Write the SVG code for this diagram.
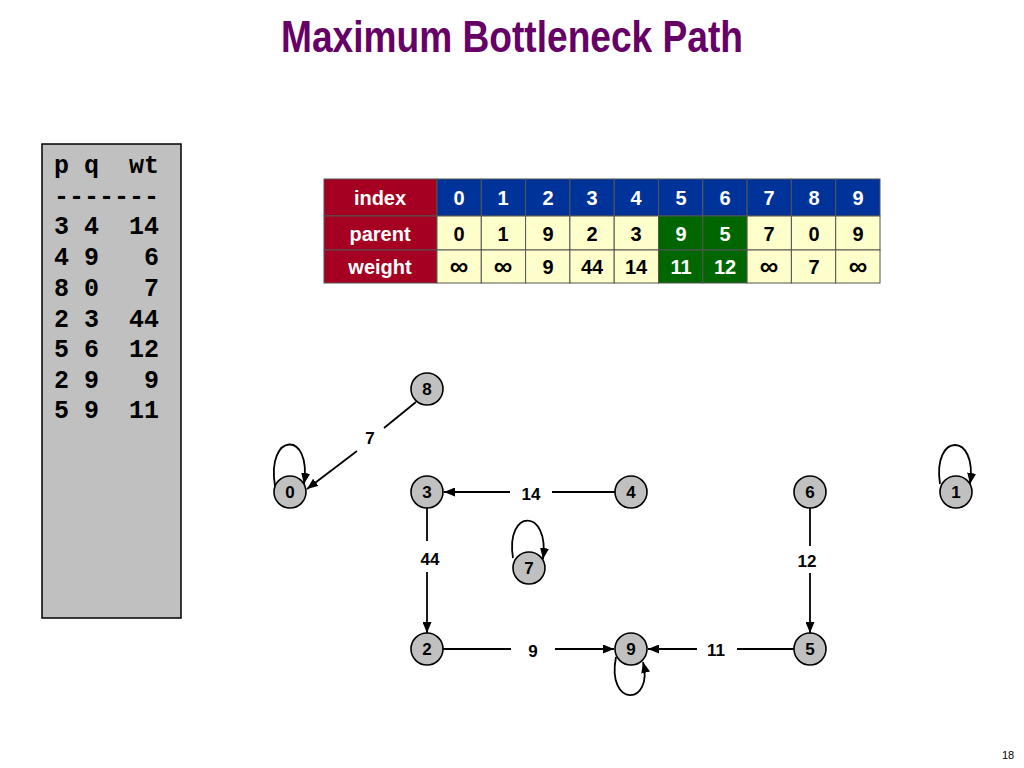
<svg xmlns="http://www.w3.org/2000/svg" width="1024" height="768" viewBox="0 0 1024 768">
<style>
.title{font-family:"Liberation Sans",Arial,sans-serif;font-weight:bold;font-size:44px;fill:#660066}
.code{font-family:"Liberation Mono","Courier New",monospace;font-weight:bold;font-size:25px;fill:#000;white-space:pre}
.th{font-family:"Liberation Sans",Arial,sans-serif;font-weight:bold;font-size:20px;fill:#fff}
.td{font-family:"Liberation Sans",Arial,sans-serif;font-weight:bold;font-size:20px;fill:#000}
.tdw{font-family:"Liberation Sans",Arial,sans-serif;font-weight:bold;font-size:20px;fill:#fff}
.inf{font-family:"Liberation Sans",Arial,sans-serif;font-weight:bold;font-size:26px;fill:#000}
.red{fill:#A50021;stroke:#555;stroke-width:1}
.blue{fill:#003399;stroke:#555;stroke-width:1}
.yel{fill:#FFFFCC;stroke:#555;stroke-width:1}
.grn{fill:#006600;stroke:#555;stroke-width:1}
.node circle{fill:#C0C0C0;stroke:#000;stroke-width:1.6}
.node text{font-family:"Liberation Sans",Arial,sans-serif;font-weight:bold;font-size:17px;fill:#000;text-anchor:middle}
.edge{stroke:#000;stroke-width:1.8;fill:none}
.lbl{font-family:"Liberation Sans",Arial,sans-serif;font-weight:bold;font-size:17px;fill:#000;text-anchor:middle}
</style>
<defs>
<marker id="arr" markerUnits="userSpaceOnUse" markerWidth="11" markerHeight="9" refX="11" refY="4.5" orient="auto">
<path d="M0,0 L11,4.5 L0,9 z" fill="#000"/>
</marker>
</defs>
<rect width="1024" height="768" fill="#fff"/>
<text class="title" x="512" y="52" text-anchor="middle" textLength="462" lengthAdjust="spacingAndGlyphs">Maximum Bottleneck Path</text>

<g id="edgelist">
<rect x="42" y="144" width="139" height="474" fill="#C0C0C0" stroke="#000" stroke-width="1.5"/>
<text class="code" x="54" y="173">p q  wt</text>
<text class="code" x="54" y="204">-------</text>
<text class="code" x="54" y="234">3 4  14</text>
<text class="code" x="54" y="265">4 9   6</text>
<text class="code" x="54" y="296">8 0   7</text>
<text class="code" x="54" y="327">2 3  44</text>
<text class="code" x="54" y="357">5 6  12</text>
<text class="code" x="54" y="388">2 9   9</text>
<text class="code" x="54" y="418">5 9  11</text>
</g>

<g id="table">
<rect class="red" x="324" y="179" width="113" height="37"/>
<rect class="red" x="324" y="216" width="113" height="34"/>
<rect class="red" x="324" y="250" width="113" height="33"/>
<g class="blue">
<rect x="437" y="179" width="44.3" height="37"/><rect x="481.3" y="179" width="44.3" height="37"/><rect x="525.6" y="179" width="44.3" height="37"/><rect x="569.9" y="179" width="44.3" height="37"/><rect x="614.2" y="179" width="44.3" height="37"/><rect x="658.5" y="179" width="44.3" height="37"/><rect x="702.8" y="179" width="44.3" height="37"/><rect x="747.1" y="179" width="44.3" height="37"/><rect x="791.4" y="179" width="44.3" height="37"/><rect x="835.7" y="179" width="44.3" height="37"/>
</g>
<g>
<rect class="yel" x="437" y="216" width="44.3" height="34"/><rect class="yel" x="481.3" y="216" width="44.3" height="34"/><rect class="yel" x="525.6" y="216" width="44.3" height="34"/><rect class="yel" x="569.9" y="216" width="44.3" height="34"/><rect class="yel" x="614.2" y="216" width="44.3" height="34"/><rect class="grn" x="658.5" y="216" width="44.3" height="34"/><rect class="grn" x="702.8" y="216" width="44.3" height="34"/><rect class="yel" x="747.1" y="216" width="44.3" height="34"/><rect class="yel" x="791.4" y="216" width="44.3" height="34"/><rect class="yel" x="835.7" y="216" width="44.3" height="34"/>
<rect class="yel" x="437" y="250" width="44.3" height="33"/><rect class="yel" x="481.3" y="250" width="44.3" height="33"/><rect class="yel" x="525.6" y="250" width="44.3" height="33"/><rect class="yel" x="569.9" y="250" width="44.3" height="33"/><rect class="yel" x="614.2" y="250" width="44.3" height="33"/><rect class="grn" x="658.5" y="250" width="44.3" height="33"/><rect class="grn" x="702.8" y="250" width="44.3" height="33"/><rect class="yel" x="747.1" y="250" width="44.3" height="33"/><rect class="yel" x="791.4" y="250" width="44.3" height="33"/><rect class="yel" x="835.7" y="250" width="44.3" height="33"/>
</g>
<g text-anchor="middle">
<text class="th" x="380" y="205">index</text>
<text class="th" x="380" y="241">parent</text>
<text class="th" x="380" y="274">weight</text>
<text class="th" x="459" y="205">0</text><text class="th" x="503" y="205">1</text><text class="th" x="548" y="205">2</text><text class="th" x="592" y="205">3</text><text class="th" x="636" y="205">4</text><text class="th" x="681" y="205">5</text><text class="th" x="725" y="205">6</text><text class="th" x="769" y="205">7</text><text class="th" x="814" y="205">8</text><text class="th" x="858" y="205">9</text>
<text class="td" x="459" y="241">0</text><text class="td" x="503" y="241">1</text><text class="td" x="548" y="241">9</text><text class="td" x="592" y="241">2</text><text class="td" x="636" y="241">3</text><text class="tdw" x="681" y="241">9</text><text class="tdw" x="725" y="241">5</text><text class="td" x="769" y="241">7</text><text class="td" x="814" y="241">0</text><text class="td" x="858" y="241">9</text>
<text class="inf" x="459" y="275">∞</text><text class="inf" x="503" y="275">∞</text><text class="td" x="548" y="274">9</text><text class="td" x="592" y="274">44</text><text class="td" x="636" y="274">14</text><text class="tdw" x="681" y="274">11</text><text class="tdw" x="725" y="274">12</text><text class="inf" x="769" y="275">∞</text><text class="td" x="814" y="274">7</text><text class="inf" x="858" y="275">∞</text>
</g>
</g>

<g id="connectors">
<line class="edge" x1="416" y1="402" x2="384" y2="428"/>
<line class="edge" x1="357" y1="451" x2="307" y2="489" marker-end="url(#arr)"/>
<line class="edge" x1="615" y1="492" x2="552" y2="492"/>
<line class="edge" x1="510" y1="492" x2="444" y2="492" marker-end="url(#arr)"/>
<line class="edge" x1="427" y1="508" x2="427" y2="541"/>
<line class="edge" x1="427" y1="572" x2="427" y2="633" marker-end="url(#arr)"/>
<line class="edge" x1="443" y1="649" x2="511" y2="649"/>
<line class="edge" x1="555" y1="649" x2="614" y2="649" marker-end="url(#arr)"/>
<line class="edge" x1="794" y1="649" x2="737" y2="649"/>
<line class="edge" x1="697" y1="649" x2="648" y2="649" marker-end="url(#arr)"/>
<line class="edge" x1="810" y1="508" x2="810" y2="546"/>
<line class="edge" x1="810" y1="573" x2="810" y2="633" marker-end="url(#arr)"/>
<path class="edge" d="M275,486 C266,432 312,430 304,484" marker-end="url(#arr)"/>
<path class="edge" d="M513,558 C505,508 550,508 543,559" marker-end="url(#arr)"/>
<path class="edge" d="M940,484 C932,432 978,432 970,484" marker-end="url(#arr)"/>
<path class="edge" d="M616,657 C606,708 654,706 643,662" marker-end="url(#arr)"/>
<text class="lbl" x="370" y="444">7</text>
<text class="lbl" x="531" y="500">14</text>
<text class="lbl" x="430" y="565">44</text>
<text class="lbl" x="807" y="567">12</text>
<text class="lbl" x="533" y="657">9</text>
<text class="lbl" x="716" y="656">11</text>
</g>

<g id="n8" class="node"><circle cx="427" cy="389" r="16"/><text x="427" y="395">8</text></g>
<g id="n0" class="node"><circle cx="290" cy="492" r="16"/><text x="290" y="498">0</text></g>
<g id="n3" class="node"><circle cx="427" cy="492" r="16"/><text x="427" y="498">3</text></g>
<g id="n4" class="node"><circle cx="631" cy="492" r="16"/><text x="631" y="498">4</text></g>
<g id="n6" class="node"><circle cx="810" cy="492" r="16"/><text x="810" y="498">6</text></g>
<g id="n1" class="node"><circle cx="956" cy="492" r="16"/><text x="956" y="498">1</text></g>
<g id="n7" class="node"><circle cx="529" cy="568" r="16"/><text x="529" y="574">7</text></g>
<g id="n2" class="node"><circle cx="427" cy="649" r="16"/><text x="427" y="655">2</text></g>
<g id="n9" class="node"><circle cx="631" cy="649" r="16"/><text x="631" y="655">9</text></g>
<g id="n5" class="node"><circle cx="810" cy="649" r="16"/><text x="810" y="655">5</text></g>

<text x="1008" y="759" font-family="'Liberation Sans',Arial,sans-serif" font-size="11" fill="#000" text-anchor="middle">18</text>
</svg>
